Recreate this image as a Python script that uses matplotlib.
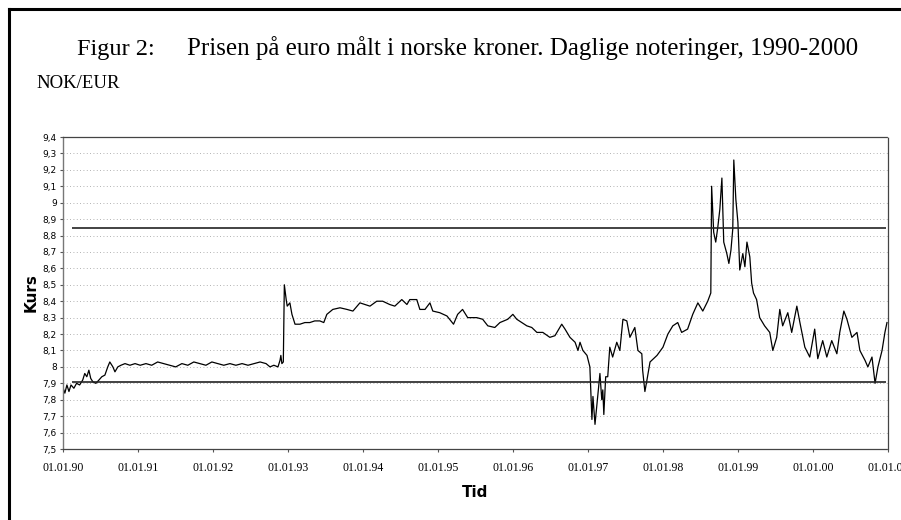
import matplotlib
matplotlib.use("Agg")
import matplotlib.pyplot as plt
import matplotlib.dates as mdates
import pandas as pd
from matplotlib.lines import Line2D

# Daglige noteringer
datoer = [
    "1990-01-02", "1990-01-10", "1990-01-20", "1990-01-30", "1990-02-09", "1990-02-23",
    "1990-03-08", "1990-03-23", "1990-04-07", "1990-04-17", "1990-04-27", "1990-05-07",
    "1990-05-16", "1990-05-26", "1990-06-10", "1990-06-25", "1990-07-09", "1990-07-24",
    "1990-08-07", "1990-08-17", "1990-09-01", "1990-09-11", "1990-09-25", "1990-10-10",
    "1990-10-30", "1990-11-23", "1990-12-18",
    "1991-01-12", "1991-02-09", "1991-03-09", "1991-04-07", "1991-05-07", "1991-06-05",
    "1991-07-04", "1991-08-03", "1991-09-01", "1991-09-30", "1991-10-30", "1991-11-28",
    "1991-12-27",
    "1992-01-25", "1992-02-23", "1992-03-24", "1992-04-22", "1992-05-22", "1992-06-20",
    "1992-07-19", "1992-08-18", "1992-09-16", "1992-10-05", "1992-10-24", "1992-11-13",
    "1992-11-23", "1992-11-27", "1992-12-02", "1992-12-09", "1992-12-14", "1992-12-19",
    "1992-12-23", "1992-12-28",
    "1993-01-10", "1993-01-20", "1993-01-25", "1993-02-04", "1993-02-28", "1993-03-24",
    "1993-04-17", "1993-05-11", "1993-06-05", "1993-06-24", "1993-07-09", "1993-08-07",
    "1993-09-11", "1993-10-15", "1993-11-13", "1993-12-17",
    "1994-01-10", "1994-02-04", "1994-03-09", "1994-04-07", "1994-05-11", "1994-06-05",
    "1994-07-09", "1994-08-03", "1994-08-17", "1994-09-20", "1994-10-05", "1994-10-30",
    "1994-11-23", "1994-12-07",
    "1995-01-10", "1995-02-14", "1995-03-18", "1995-04-07", "1995-05-01", "1995-05-26",
    "1995-07-09", "1995-08-07", "1995-09-01", "1995-10-05", "1995-10-30", "1995-12-07",
    "1996-01-01", "1996-01-20", "1996-02-14", "1996-03-09", "1996-04-02", "1996-04-27",
    "1996-05-26", "1996-06-29", "1996-07-24", "1996-08-26", "1996-09-11", "1996-10-05",
    "1996-10-30", "1996-11-13", "1996-11-23", "1996-12-07", "1996-12-27",
    "1997-01-10", "1997-01-20", "1997-01-25", "1997-02-04", "1997-02-14", "1997-02-28",
    "1997-03-09", "1997-03-14", "1997-03-19", "1997-03-28", "1997-04-07", "1997-04-17",
    "1997-05-01", "1997-05-21", "1997-06-05", "1997-06-20", "1997-07-09", "1997-07-24",
    "1997-08-17", "1997-09-01", "1997-09-20", "1997-09-24", "1997-10-05", "1997-10-15",
    "1997-10-30", "1997-12-03",
    "1998-01-01", "1998-01-25", "1998-02-18", "1998-03-14", "1998-04-02", "1998-05-01",
    "1998-05-26", "1998-06-20", "1998-07-14", "1998-08-07", "1998-08-22", "1998-08-26",
    "1998-09-05", "1998-09-15", "1998-09-25", "1998-10-05", "1998-10-15", "1998-10-24",
    "1998-11-08", "1998-11-18", "1998-11-28", "1998-12-07", "1998-12-12", "1998-12-22",
    "1999-01-01", "1999-01-10", "1999-01-25", "1999-02-04", "1999-02-14", "1999-02-28",
    "1999-03-09", "1999-03-18", "1999-04-02", "1999-04-17", "1999-05-11", "1999-06-05",
    "1999-06-20", "1999-07-09", "1999-07-24", "1999-08-07", "1999-09-01", "1999-09-20",
    "1999-10-15", "1999-10-30", "1999-11-23", "1999-12-17",
    "2000-01-10", "2000-01-25", "2000-02-18", "2000-03-09", "2000-04-02", "2000-04-27",
    "2000-05-11", "2000-05-31", "2000-06-15", "2000-07-09", "2000-08-03", "2000-08-17",
    "2000-09-11", "2000-09-25", "2000-10-15", "2000-10-30", "2000-11-13", "2000-12-03",
    "2000-12-17", "2000-12-27",
]
kurs = [
    7.87, 7.84, 7.89, 7.85, 7.89, 7.87,
    7.90, 7.89, 7.92, 7.96, 7.94, 7.98,
    7.93, 7.91, 7.90, 7.92, 7.94, 7.95,
    8.00, 8.03, 8.00, 7.97, 8.00, 8.01,
    8.02, 8.01, 8.02,
    8.01, 8.02, 8.01, 8.03, 8.02, 8.01,
    8.00, 8.02, 8.01, 8.03, 8.02, 8.01,
    8.03,
    8.02, 8.01, 8.02, 8.01, 8.02, 8.01,
    8.02, 8.03, 8.02, 8.00, 8.01, 8.00,
    8.04, 8.07, 8.02, 8.03, 8.50, 8.45,
    8.41, 8.37,
    8.39, 8.32, 8.30, 8.26, 8.26, 8.27,
    8.27, 8.28, 8.28, 8.27, 8.32, 8.35,
    8.36, 8.35, 8.34, 8.39,
    8.38, 8.37, 8.40, 8.40, 8.38, 8.37,
    8.41, 8.38, 8.41, 8.41, 8.35, 8.35,
    8.39, 8.34,
    8.33, 8.31, 8.26, 8.32, 8.35, 8.30,
    8.30, 8.29, 8.25, 8.24, 8.27, 8.29,
    8.32, 8.29, 8.27, 8.25, 8.24, 8.21,
    8.21, 8.18, 8.19, 8.26, 8.23, 8.18,
    8.15, 8.10, 8.15, 8.10, 8.07,
    8.00, 7.68, 7.82, 7.65, 7.78, 7.96,
    7.80, 7.86, 7.71, 7.94, 7.94, 8.12,
    8.06, 8.15, 8.10, 8.29, 8.28, 8.18,
    8.24, 8.10, 8.08, 7.98, 7.85, 7.92,
    8.03, 8.07,
    8.12, 8.20, 8.25, 8.27, 8.21, 8.23,
    8.32, 8.39, 8.34, 8.40, 8.45, 9.10,
    8.82, 8.76, 8.85, 8.96, 9.15, 8.76,
    8.69, 8.63, 8.71, 8.84, 9.26, 9.02,
    8.88, 8.59, 8.69, 8.61, 8.76, 8.67,
    8.51, 8.45, 8.41, 8.30, 8.25, 8.21,
    8.10, 8.18, 8.35, 8.25, 8.33, 8.21,
    8.37, 8.27, 8.12, 8.06,
    8.23, 8.05, 8.16, 8.06, 8.16, 8.08,
    8.21, 8.34, 8.29, 8.18, 8.21, 8.10,
    8.04, 8.00, 8.06, 7.90, 8.00, 8.10,
    8.21, 8.27,
]

# Horisontale linjer (hoyeste og laveste niva)
linje_fra = "1990-02-15"
linje_til = "2000-12-20"
ovre_niva = 8.845
nedre_niva = 7.91

aar_ticks = [f"{a}-01-01" for a in range(1990, 2002)]
y_ticks = [7.5, 7.6, 7.7, 7.8, 7.9, 8.0, 8.1, 8.2, 8.3, 8.4, 8.5, 8.6, 8.7,
           8.8, 8.9, 9.0, 9.1, 9.2, 9.3, 9.4]

x = pd.to_datetime(datoer)

fig = plt.figure(figsize=(9.01, 5.20), dpi=100)
ax = fig.add_axes([63 / 901, 1 - 449 / 520, 825 / 901, 312 / 520])

ax.plot(x, kurs, color="black", linewidth=0.9)
ax.hlines([ovre_niva, nedre_niva], pd.Timestamp(linje_fra), pd.Timestamp(linje_til),
          color="#222222", linewidth=1.2)

ax.set_xlim(pd.Timestamp("1990-01-01"), pd.Timestamp("2001-01-01"))
ax.set_ylim(7.5, 9.4)
ax.set_xticks(pd.to_datetime(aar_ticks))
ax.xaxis.set_major_formatter(mdates.DateFormatter("%d.%m.%y"))
ax.set_yticks(y_ticks)
ax.set_yticklabels([f"{v:g}".replace(".", ",") for v in y_ticks])

for lab in ax.get_xticklabels():
    lab.set_fontfamily("Liberation Serif")
    lab.set_fontsize(8.5)
for lab in ax.get_yticklabels():
    lab.set_fontfamily("DejaVu Sans")
    lab.set_fontsize(6.5)
ax.tick_params(axis="both", length=2.5, width=0.8, color="#555555", pad=2)
ax.tick_params(axis="x", pad=7)

ax.grid(axis="y", color="#999999", linestyle=(0, (1, 3)), linewidth=0.6)
ax.spines["left"].set_color("#777777")
ax.spines["left"].set_linewidth(1.0)
for s in ["top", "right", "bottom"]:
    ax.spines[s].set_linestyle((0, (1, 1)))
    ax.spines[s].set_linewidth(0.9)
    ax.spines[s].set_color("#444444")

ax.set_ylabel("Kurs", fontsize=11, fontweight="bold", fontfamily="DejaVu Sans", labelpad=3)
ax.set_xlabel("Tid", fontsize=11, fontweight="bold", fontfamily="DejaVu Sans", labelpad=8)

# Tittel og enhet
fig.text(77 / 901, 1 - 55 / 520, "Figur 2:", fontsize=17.5, fontfamily="Liberation Serif",
         va="baseline", ha="left")
fig.text(187 / 901, 1 - 55 / 520,
         "Prisen på euro målt i norske kroner. Daglige noteringer, 1990-2000",
         fontsize=18, fontfamily="Liberation Serif", va="baseline", ha="left")
fig.text(36 / 901, 1 - 88 / 520, "NOK/EUR", fontsize=13.5, fontfamily="Liberation Serif",
         va="baseline", ha="left")

# Ramme oppe og til venstre
fig.add_artist(Line2D([9 / 901, 9 / 901], [0, 1 - 9 / 520], color="black", linewidth=2.2))
fig.add_artist(Line2D([9 / 901, 1], [1 - 9 / 520, 1 - 9 / 520], color="black", linewidth=2.2))

fig.savefig("out.png", dpi=100)
